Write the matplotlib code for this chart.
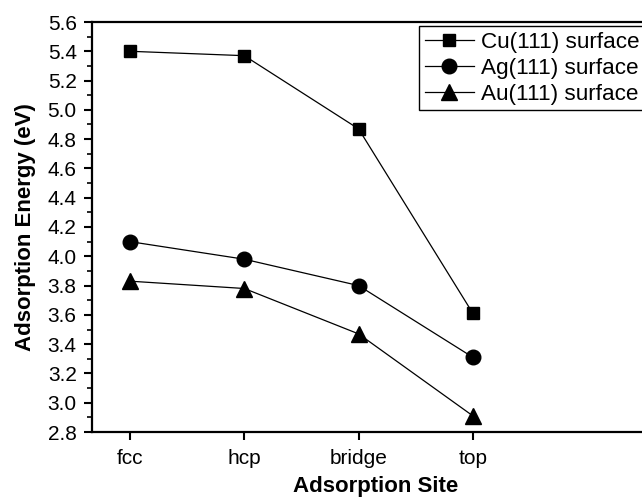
import matplotlib
matplotlib.use("Agg")

import matplotlib.pyplot as plt
from matplotlib.ticker import MultipleLocator

plt.rcParams["font.family"] = ["Liberation Sans", "DejaVu Sans"]

# ── Data ─────────────────────────────────────────────────────────────────────
sites = ["fcc", "hcp", "bridge", "top"]
cu_energy = [5.40, 5.37, 4.87, 3.61]
ag_energy = [4.10, 3.98, 3.80, 3.31]
au_energy = [3.83, 3.78, 3.47, 2.91]

W, H = 642, 498
fig = plt.figure(figsize=(W / 100, H / 100), dpi=100)

# axes runs past the right edge of the picture, as in the original
left_px, right_px, top_px, bottom_px = 92, 660, 22, 432
ax = fig.add_axes([left_px / W, 1 - bottom_px / H,
                   (right_px - left_px) / W, (bottom_px - top_px) / H])

x = list(range(1, len(sites) + 1))
ax.plot(x, cu_energy, "k-", marker="s", markersize=9, linewidth=0.9,
        label="Cu(111) surface")
ax.plot(x, ag_energy, "k-", marker="o", markersize=10.5, linewidth=0.9,
        label="Ag(111) surface")
ax.plot(x, au_energy, "k-", marker="^", markersize=11.5, linewidth=0.9,
        label="Au(111) surface")

spacing = 114.3
x0 = 1 - (130 - left_px) / spacing
ax.set_xlim(x0, x0 + (right_px - left_px) / spacing)
ax.set_ylim(2.8, 5.6)
ax.set_xticks(x)
ax.set_xticklabels(sites)
ax.yaxis.set_major_locator(MultipleLocator(0.2))
ax.yaxis.set_minor_locator(MultipleLocator(0.1))
ax.yaxis.set_major_formatter(plt.FormatStrFormatter("%.1f"))

for side in ["left", "bottom", "top", "right"]:
    ax.spines[side].set_linewidth(1.6)

ax.tick_params(axis="both", which="major", direction="out", length=6,
               width=1.5, labelsize=15)
ax.tick_params(axis="y", which="minor", direction="out", length=3.5, width=1.2)
ax.tick_params(axis="y", pad=5)
ax.tick_params(axis="x", pad=6)

ax.set_xlabel("Adsorption Site", fontsize=16, fontweight="bold", labelpad=6)
ax.set_ylabel("Adsorption Energy (eV)", fontsize=16, fontweight="bold",
              labelpad=8)

leg = ax.legend(loc="upper left", bbox_to_anchor=(419 / W, 1 - 26 / H),
                bbox_transform=fig.transFigure, fontsize=16.2, frameon=True,
                fancybox=False, framealpha=1, edgecolor="black",
                handlelength=2.2, handletextpad=0.3, borderpad=0.25,
                labelspacing=0.22, borderaxespad=0)
leg.get_frame().set_linewidth(1.0)

fig.savefig("out.png", dpi=100)
